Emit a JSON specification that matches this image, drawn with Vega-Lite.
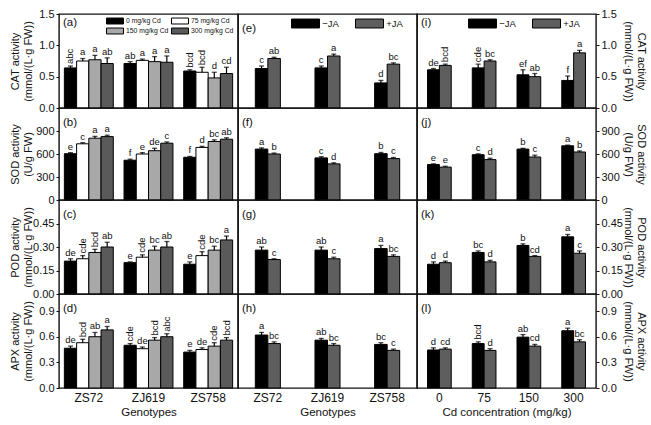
{
"$schema": "https://vega.github.io/schema/vega-lite/v6.json",
"background": "white",
"padding": {"left": 8, "top": 7, "right": 5, "bottom": 5},
"datasets": {
"g4": [
{"enz":"CAT","geno":"ZS72","trt":"0 mg/kg Cd","v":0.64,"hi":0.67,"lab":"abc"},
{"enz":"CAT","geno":"ZS72","trt":"75 mg/kg Cd","v":0.75,"hi":0.79,"lab":"a"},
{"enz":"CAT","geno":"ZS72","trt":"150 mg/kg Cd","v":0.77,"hi":0.84,"lab":"a"},
{"enz":"CAT","geno":"ZS72","trt":"300 mg/kg Cd","v":0.71,"hi":0.80,"lab":"ab"},
{"enz":"CAT","geno":"ZJ619","trt":"0 mg/kg Cd","v":0.71,"hi":0.74,"lab":"ab"},
{"enz":"CAT","geno":"ZJ619","trt":"75 mg/kg Cd","v":0.76,"hi":0.78,"lab":"a"},
{"enz":"CAT","geno":"ZJ619","trt":"150 mg/kg Cd","v":0.74,"hi":0.82,"lab":"a"},
{"enz":"CAT","geno":"ZJ619","trt":"300 mg/kg Cd","v":0.73,"hi":0.83,"lab":"a"},
{"enz":"CAT","geno":"ZS758","trt":"0 mg/kg Cd","v":0.59,"hi":0.61,"lab":"bcd"},
{"enz":"CAT","geno":"ZS758","trt":"75 mg/kg Cd","v":0.57,"hi":0.65,"lab":"bcd"},
{"enz":"CAT","geno":"ZS758","trt":"150 mg/kg Cd","v":0.48,"hi":0.57,"lab":"d"},
{"enz":"CAT","geno":"ZS758","trt":"300 mg/kg Cd","v":0.55,"hi":0.65,"lab":"cd"},
{"enz":"SOD","geno":"ZS72","trt":"0 mg/kg Cd","v":604,"hi":618,"lab":"e"},
{"enz":"SOD","geno":"ZS72","trt":"75 mg/kg Cd","v":733,"hi":748,"lab":"c"},
{"enz":"SOD","geno":"ZS72","trt":"150 mg/kg Cd","v":806,"hi":830,"lab":"a"},
{"enz":"SOD","geno":"ZS72","trt":"300 mg/kg Cd","v":827,"hi":845,"lab":"a"},
{"enz":"SOD","geno":"ZJ619","trt":"0 mg/kg Cd","v":519,"hi":532,"lab":"f"},
{"enz":"SOD","geno":"ZJ619","trt":"75 mg/kg Cd","v":600,"hi":618,"lab":"e"},
{"enz":"SOD","geno":"ZJ619","trt":"150 mg/kg Cd","v":643,"hi":675,"lab":"de"},
{"enz":"SOD","geno":"ZJ619","trt":"300 mg/kg Cd","v":741,"hi":758,"lab":"c"},
{"enz":"SOD","geno":"ZS758","trt":"0 mg/kg Cd","v":557,"hi":568,"lab":"f"},
{"enz":"SOD","geno":"ZS758","trt":"75 mg/kg Cd","v":686,"hi":700,"lab":"d"},
{"enz":"SOD","geno":"ZS758","trt":"150 mg/kg Cd","v":763,"hi":785,"lab":"bc"},
{"enz":"SOD","geno":"ZS758","trt":"300 mg/kg Cd","v":793,"hi":812,"lab":"ab"},
{"enz":"POD","geno":"ZS72","trt":"0 mg/kg Cd","v":0.21,"hi":0.225,"lab":"de"},
{"enz":"POD","geno":"ZS72","trt":"75 mg/kg Cd","v":0.225,"hi":0.245,"lab":"cde"},
{"enz":"POD","geno":"ZS72","trt":"150 mg/kg Cd","v":0.265,"hi":0.285,"lab":"bcd"},
{"enz":"POD","geno":"ZS72","trt":"300 mg/kg Cd","v":0.30,"hi":0.33,"lab":"ab"},
{"enz":"POD","geno":"ZJ619","trt":"0 mg/kg Cd","v":0.20,"hi":0.205,"lab":"e"},
{"enz":"POD","geno":"ZJ619","trt":"75 mg/kg Cd","v":0.235,"hi":0.25,"lab":"cde"},
{"enz":"POD","geno":"ZJ619","trt":"150 mg/kg Cd","v":0.28,"hi":0.305,"lab":"bc"},
{"enz":"POD","geno":"ZJ619","trt":"300 mg/kg Cd","v":0.30,"hi":0.335,"lab":"ab"},
{"enz":"POD","geno":"ZS758","trt":"0 mg/kg Cd","v":0.19,"hi":0.205,"lab":"e"},
{"enz":"POD","geno":"ZS758","trt":"75 mg/kg Cd","v":0.245,"hi":0.27,"lab":"cde"},
{"enz":"POD","geno":"ZS758","trt":"150 mg/kg Cd","v":0.28,"hi":0.305,"lab":"bc"},
{"enz":"POD","geno":"ZS758","trt":"300 mg/kg Cd","v":0.345,"hi":0.37,"lab":"a"},
{"enz":"APX","geno":"ZS72","trt":"0 mg/kg Cd","v":0.465,"hi":0.49,"lab":"de"},
{"enz":"APX","geno":"ZS72","trt":"75 mg/kg Cd","v":0.53,"hi":0.57,"lab":"bcd"},
{"enz":"APX","geno":"ZS72","trt":"150 mg/kg Cd","v":0.60,"hi":0.65,"lab":"ab"},
{"enz":"APX","geno":"ZS72","trt":"300 mg/kg Cd","v":0.68,"hi":0.72,"lab":"a"},
{"enz":"APX","geno":"ZJ619","trt":"0 mg/kg Cd","v":0.50,"hi":0.52,"lab":"cde"},
{"enz":"APX","geno":"ZJ619","trt":"75 mg/kg Cd","v":0.46,"hi":0.48,"lab":"de"},
{"enz":"APX","geno":"ZJ619","trt":"150 mg/kg Cd","v":0.56,"hi":0.59,"lab":"bcd"},
{"enz":"APX","geno":"ZJ619","trt":"300 mg/kg Cd","v":0.60,"hi":0.635,"lab":"abc"},
{"enz":"APX","geno":"ZS758","trt":"0 mg/kg Cd","v":0.42,"hi":0.44,"lab":"e"},
{"enz":"APX","geno":"ZS758","trt":"75 mg/kg Cd","v":0.45,"hi":0.47,"lab":"de"},
{"enz":"APX","geno":"ZS758","trt":"150 mg/kg Cd","v":0.49,"hi":0.53,"lab":"cde"},
{"enz":"APX","geno":"ZS758","trt":"300 mg/kg Cd","v":0.56,"hi":0.59,"lab":"bcd"}
],
"ja": [
{"enz":"CAT","geno":"ZS72","trt":"−JA","v":0.63,"hi":0.67,"lab":"c"},
{"enz":"CAT","geno":"ZS72","trt":"+JA","v":0.79,"hi":0.81,"lab":"ab"},
{"enz":"CAT","geno":"ZJ619","trt":"−JA","v":0.64,"hi":0.67,"lab":"c"},
{"enz":"CAT","geno":"ZJ619","trt":"+JA","v":0.83,"hi":0.86,"lab":"a"},
{"enz":"CAT","geno":"ZS758","trt":"−JA","v":0.40,"hi":0.44,"lab":"d"},
{"enz":"CAT","geno":"ZS758","trt":"+JA","v":0.70,"hi":0.72,"lab":"bc"},
{"enz":"SOD","geno":"ZS72","trt":"−JA","v":664,"hi":680,"lab":"a"},
{"enz":"SOD","geno":"ZS72","trt":"+JA","v":600,"hi":612,"lab":"b"},
{"enz":"SOD","geno":"ZJ619","trt":"−JA","v":549,"hi":565,"lab":"c"},
{"enz":"SOD","geno":"ZJ619","trt":"+JA","v":471,"hi":485,"lab":"d"},
{"enz":"SOD","geno":"ZS758","trt":"−JA","v":604,"hi":620,"lab":"b"},
{"enz":"SOD","geno":"ZS758","trt":"+JA","v":540,"hi":555,"lab":"c"},
{"enz":"POD","geno":"ZS72","trt":"−JA","v":0.28,"hi":0.30,"lab":"ab"},
{"enz":"POD","geno":"ZS72","trt":"+JA","v":0.22,"hi":0.225,"lab":"c"},
{"enz":"POD","geno":"ZJ619","trt":"−JA","v":0.28,"hi":0.30,"lab":"ab"},
{"enz":"POD","geno":"ZJ619","trt":"+JA","v":0.225,"hi":0.235,"lab":"c"},
{"enz":"POD","geno":"ZS758","trt":"−JA","v":0.29,"hi":0.31,"lab":"a"},
{"enz":"POD","geno":"ZS758","trt":"+JA","v":0.24,"hi":0.25,"lab":"bc"},
{"enz":"APX","geno":"ZS72","trt":"−JA","v":0.62,"hi":0.65,"lab":"a"},
{"enz":"APX","geno":"ZS72","trt":"+JA","v":0.52,"hi":0.54,"lab":"bc"},
{"enz":"APX","geno":"ZJ619","trt":"−JA","v":0.56,"hi":0.58,"lab":"ab"},
{"enz":"APX","geno":"ZJ619","trt":"+JA","v":0.50,"hi":0.52,"lab":"bc"},
{"enz":"APX","geno":"ZS758","trt":"−JA","v":0.51,"hi":0.53,"lab":"bc"},
{"enz":"APX","geno":"ZS758","trt":"+JA","v":0.44,"hi":0.455,"lab":"c"}
],
"jc": [
{"enz":"CAT","cd":"0","trt":"−JA","v":0.61,"hi":0.63,"lab":"de"},
{"enz":"CAT","cd":"0","trt":"+JA","v":0.68,"hi":0.70,"lab":"bcd"},
{"enz":"CAT","cd":"75","trt":"−JA","v":0.64,"hi":0.70,"lab":"cde"},
{"enz":"CAT","cd":"75","trt":"+JA","v":0.75,"hi":0.77,"lab":"bc"},
{"enz":"CAT","cd":"150","trt":"−JA","v":0.53,"hi":0.61,"lab":"ef"},
{"enz":"CAT","cd":"150","trt":"+JA","v":0.50,"hi":0.55,"lab":"ab"},
{"enz":"CAT","cd":"300","trt":"−JA","v":0.44,"hi":0.51,"lab":"f"},
{"enz":"CAT","cd":"300","trt":"+JA","v":0.88,"hi":0.92,"lab":"a"},
{"enz":"SOD","cd":"0","trt":"−JA","v":463,"hi":472,"lab":"e"},
{"enz":"SOD","cd":"0","trt":"+JA","v":429,"hi":440,"lab":"e"},
{"enz":"SOD","cd":"75","trt":"−JA","v":591,"hi":602,"lab":"c"},
{"enz":"SOD","cd":"75","trt":"+JA","v":527,"hi":545,"lab":"d"},
{"enz":"SOD","cd":"150","trt":"−JA","v":664,"hi":674,"lab":"b"},
{"enz":"SOD","cd":"150","trt":"+JA","v":561,"hi":585,"lab":"c"},
{"enz":"SOD","cd":"300","trt":"−JA","v":707,"hi":716,"lab":"a"},
{"enz":"SOD","cd":"300","trt":"+JA","v":626,"hi":640,"lab":"b"},
{"enz":"POD","cd":"0","trt":"−JA","v":0.19,"hi":0.205,"lab":"d"},
{"enz":"POD","cd":"0","trt":"+JA","v":0.20,"hi":0.21,"lab":"d"},
{"enz":"POD","cd":"75","trt":"−JA","v":0.265,"hi":0.275,"lab":"bc"},
{"enz":"POD","cd":"75","trt":"+JA","v":0.205,"hi":0.215,"lab":"d"},
{"enz":"POD","cd":"150","trt":"−JA","v":0.31,"hi":0.32,"lab":"b"},
{"enz":"POD","cd":"150","trt":"+JA","v":0.24,"hi":0.245,"lab":"cd"},
{"enz":"POD","cd":"300","trt":"−JA","v":0.365,"hi":0.38,"lab":"a"},
{"enz":"POD","cd":"300","trt":"+JA","v":0.26,"hi":0.275,"lab":"c"},
{"enz":"APX","cd":"0","trt":"−JA","v":0.445,"hi":0.47,"lab":"d"},
{"enz":"APX","cd":"0","trt":"+JA","v":0.455,"hi":0.47,"lab":"cd"},
{"enz":"APX","cd":"75","trt":"−JA","v":0.52,"hi":0.54,"lab":"bcd"},
{"enz":"APX","cd":"75","trt":"+JA","v":0.44,"hi":0.46,"lab":"d"},
{"enz":"APX","cd":"150","trt":"−JA","v":0.595,"hi":0.625,"lab":"ab"},
{"enz":"APX","cd":"150","trt":"+JA","v":0.49,"hi":0.51,"lab":"cd"},
{"enz":"APX","cd":"300","trt":"−JA","v":0.67,"hi":0.70,"lab":"a"},
{"enz":"APX","cd":"300","trt":"+JA","v":0.54,"hi":0.565,"lab":"bc"}
]
},
"columns": 3,
"spacing": 0,
"bounds": "flush",
"concat": [
{"width":179,"height":94,"title":{"text":"(a)"},"data":{"name":"g4"},"transform":[{"filter":"datum.enz === 'CAT'"}],
 "encoding":{"x":{"field":"geno","type":"nominal","sort":["ZS72","ZJ619","ZS758"],"scale":{"paddingInner":0.18,"paddingOuter":0.09},"axis":null},
  "xOffset":{"field":"trt","type":"nominal","sort":["0 mg/kg Cd","75 mg/kg Cd","150 mg/kg Cd","300 mg/kg Cd"],"scale":{"paddingInner":0,"paddingOuter":0}}},
 "layer":[
  {"mark":{"type":"bar","stroke":"black","strokeWidth":1},"encoding":{"y":{"field":"v","type":"quantitative","scale":{"domain":[0,1.5],"nice":false},"axis":{"orient":"left","values":[0,0.5,1,1.5],"format":".1f","labelOverlap":false,"title":["CAT activity","(mmol/(L·g FW))"]}},
   "color":{"field":"trt","type":"nominal","scale":{"domain":["0 mg/kg Cd","75 mg/kg Cd","150 mg/kg Cd","300 mg/kg Cd"],"range":["#000000","#ffffff","#a8a8a8","#5a5a5a"]},
    "legend":{"title":null,"orient":"none","legendX":51,"legendY":2,"columns":2,"direction":"horizontal","symbolType":"M-2,-0.7H2V0.7H-2Z","symbolSize":72,"labelFontSize":6.8,"labelOffset":6,"columnPadding":0,"rowPadding":-6,"symbolStrokeColor":"black","symbolStrokeWidth":1}}}},
  {"mark":{"type":"rule","color":"black","strokeWidth":1.2},"encoding":{"y":{"field":"v","type":"quantitative","axis":{"orient":"left","values":[0,0.5,1,1.5],"format":".1f","labelOverlap":false,"title":["CAT activity","(mmol/(L·g FW))"]}},"y2":{"field":"hi"}}},
  {"mark":{"type":"tick","color":"black","thickness":1.3,"size":5},"encoding":{"y":{"field":"hi","type":"quantitative","axis":{"orient":"left","values":[0,0.5,1,1.5],"format":".1f","labelOverlap":false,"title":["CAT activity","(mmol/(L·g FW))"]}}}},
  {"transform":[{"filter":"length(datum.lab) < 3"}],"mark":{"type":"text","baseline":"bottom","dy":-1,"fontSize":9.5,"color":"#111"},"encoding":{"y":{"field":"hi","type":"quantitative","axis":{"orient":"left","values":[0,0.5,1,1.5],"format":".1f","labelOverlap":false,"title":["CAT activity","(mmol/(L·g FW))"]}},"text":{"field":"lab"}}},
  {"transform":[{"filter":"length(datum.lab) >= 3"}],"mark":{"type":"text","angle":270,"align":"left","baseline":"middle","dx":2,"fontSize":9.5,"color":"#111"},"encoding":{"y":{"field":"hi","type":"quantitative","axis":{"orient":"left","values":[0,0.5,1,1.5],"format":".1f","labelOverlap":false,"title":["CAT activity","(mmol/(L·g FW))"]}},"text":{"field":"lab"}}}
 ]},
{"width":179,"height":94,"title":{"text":"(e)"},"data":{"name":"ja"},"transform":[{"filter":"datum.enz === 'CAT'"}],
 "encoding":{"x":{"field":"geno","type":"nominal","sort":["ZS72","ZJ619","ZS758"],"scale":{"paddingInner":0.58,"paddingOuter":0.29},"axis":null},
  "xOffset":{"field":"trt","type":"nominal","sort":["−JA","+JA"],"scale":{"paddingInner":0,"paddingOuter":0}}},
 "layer":[
  {"mark":{"type":"bar","stroke":"black","strokeWidth":1},"encoding":{"y":{"field":"v","type":"quantitative","scale":{"domain":[0,1.5],"nice":false},"axis":null},
   "color":{"field":"trt","type":"nominal","scale":{"domain":["−JA","+JA"],"range":["#000000","#5e5e5e"]},
    "legend":{"title":null,"orient":"none","legendX":62,"legendY":4,"columns":2,"direction":"horizontal","symbolType":"M-3,-0.96H3V0.96H-3Z","symbolSize":87,"labelFontSize":9.5,"labelOffset":11.3,"columnPadding":14,"symbolStrokeColor":"black","symbolStrokeWidth":1}}}},
  {"mark":{"type":"rule","color":"black","strokeWidth":1.2},"encoding":{"y":{"field":"v","type":"quantitative","axis":null},"y2":{"field":"hi"}}},
  {"mark":{"type":"tick","color":"black","thickness":1.3,"size":5},"encoding":{"y":{"field":"hi","type":"quantitative","axis":null}}},
  {"transform":[{"filter":"length(datum.lab) < 3"}],"mark":{"type":"text","baseline":"bottom","dy":-1,"fontSize":9.5,"color":"#111"},"encoding":{"y":{"field":"hi","type":"quantitative","axis":null},"text":{"field":"lab"}}},
  {"transform":[{"filter":"length(datum.lab) >= 3"}],"mark":{"type":"text","angle":270,"align":"left","baseline":"middle","dx":2,"fontSize":9.5,"color":"#111"},"encoding":{"y":{"field":"hi","type":"quantitative","axis":null},"text":{"field":"lab"}}}
 ]},
{"width":179,"height":94,"title":{"text":"(i)"},"data":{"name":"jc"},"transform":[{"filter":"datum.enz === 'CAT'"}],
 "encoding":{"x":{"field":"cd","type":"nominal","sort":["0","75","150","300"],"scale":{"paddingInner":0.47,"paddingOuter":0.235},"axis":null},
  "xOffset":{"field":"trt","type":"nominal","sort":["−JA","+JA"],"scale":{"paddingInner":0,"paddingOuter":0}}},
 "layer":[
  {"mark":{"type":"bar","stroke":"black","strokeWidth":1},"encoding":{"y":{"field":"v","type":"quantitative","scale":{"domain":[0,1.5],"nice":false},"axis":{"orient":"right","values":[0,0.5,1,1.5],"format":".1f","labelOverlap":false,"title":["CAT activity","(mmol/(L·g FW))"]}},
   "color":{"field":"trt","type":"nominal","scale":{"domain":["−JA","+JA"],"range":["#000000","#5e5e5e"]},
    "legend":{"title":null,"orient":"none","legendX":60,"legendY":4,"columns":2,"direction":"horizontal","symbolType":"M-3,-0.96H3V0.96H-3Z","symbolSize":87,"labelFontSize":9.5,"labelOffset":11.3,"columnPadding":14,"symbolStrokeColor":"black","symbolStrokeWidth":1}}}},
  {"mark":{"type":"rule","color":"black","strokeWidth":1.2},"encoding":{"y":{"field":"v","type":"quantitative","axis":{"orient":"right","values":[0,0.5,1,1.5],"format":".1f","labelOverlap":false,"title":["CAT activity","(mmol/(L·g FW))"]}},"y2":{"field":"hi"}}},
  {"mark":{"type":"tick","color":"black","thickness":1.3,"size":5},"encoding":{"y":{"field":"hi","type":"quantitative","axis":{"orient":"right","values":[0,0.5,1,1.5],"format":".1f","labelOverlap":false,"title":["CAT activity","(mmol/(L·g FW))"]}}}},
  {"transform":[{"filter":"length(datum.lab) < 3"}],"mark":{"type":"text","baseline":"bottom","dy":-1,"fontSize":9.5,"color":"#111"},"encoding":{"y":{"field":"hi","type":"quantitative","axis":{"orient":"right","values":[0,0.5,1,1.5],"format":".1f","labelOverlap":false,"title":["CAT activity","(mmol/(L·g FW))"]}},"text":{"field":"lab"}}},
  {"transform":[{"filter":"length(datum.lab) >= 3"}],"mark":{"type":"text","angle":270,"align":"left","baseline":"middle","dx":2,"fontSize":9.5,"color":"#111"},"encoding":{"y":{"field":"hi","type":"quantitative","axis":{"orient":"right","values":[0,0.5,1,1.5],"format":".1f","labelOverlap":false,"title":["CAT activity","(mmol/(L·g FW))"]}},"text":{"field":"lab"}}}
 ]},
{"width":179,"height":92,"title":{"text":"(b)"},"data":{"name":"g4"},"transform":[{"filter":"datum.enz === 'SOD'"}],
 "encoding":{"x":{"field":"geno","type":"nominal","sort":["ZS72","ZJ619","ZS758"],"scale":{"paddingInner":0.18,"paddingOuter":0.09},"axis":null},
  "xOffset":{"field":"trt","type":"nominal","sort":["0 mg/kg Cd","75 mg/kg Cd","150 mg/kg Cd","300 mg/kg Cd"],"scale":{"paddingInner":0,"paddingOuter":0}}},
 "layer":[
  {"mark":{"type":"bar","stroke":"black","strokeWidth":1},"encoding":{"y":{"field":"v","type":"quantitative","scale":{"domain":[0,1200],"nice":false},"axis":{"orient":"left","values":[0,300,600,900],"labelOverlap":false,"title":["SOD activity","(U/g FW)"]}},
   "color":{"field":"trt","type":"nominal","scale":{"domain":["0 mg/kg Cd","75 mg/kg Cd","150 mg/kg Cd","300 mg/kg Cd"],"range":["#000000","#ffffff","#a8a8a8","#5a5a5a"]},"legend":null}}},
  {"mark":{"type":"rule","color":"black","strokeWidth":1.2},"encoding":{"y":{"field":"v","type":"quantitative","axis":{"orient":"left","values":[0,300,600,900],"labelOverlap":false,"title":["SOD activity","(U/g FW)"]}},"y2":{"field":"hi"}}},
  {"mark":{"type":"tick","color":"black","thickness":1.3,"size":5},"encoding":{"y":{"field":"hi","type":"quantitative","axis":{"orient":"left","values":[0,300,600,900],"labelOverlap":false,"title":["SOD activity","(U/g FW)"]}}}},
  {"transform":[{"filter":"length(datum.lab) < 3"}],"mark":{"type":"text","baseline":"bottom","dy":-1,"fontSize":9.5,"color":"#111"},"encoding":{"y":{"field":"hi","type":"quantitative","axis":{"orient":"left","values":[0,300,600,900],"labelOverlap":false,"title":["SOD activity","(U/g FW)"]}},"text":{"field":"lab"}}},
  {"transform":[{"filter":"length(datum.lab) >= 3"}],"mark":{"type":"text","angle":270,"align":"left","baseline":"middle","dx":2,"fontSize":9.5,"color":"#111"},"encoding":{"y":{"field":"hi","type":"quantitative","axis":{"orient":"left","values":[0,300,600,900],"labelOverlap":false,"title":["SOD activity","(U/g FW)"]}},"text":{"field":"lab"}}}
 ]},
{"width":179,"height":92,"title":{"text":"(f)"},"data":{"name":"ja"},"transform":[{"filter":"datum.enz === 'SOD'"}],
 "encoding":{"x":{"field":"geno","type":"nominal","sort":["ZS72","ZJ619","ZS758"],"scale":{"paddingInner":0.58,"paddingOuter":0.29},"axis":null},
  "xOffset":{"field":"trt","type":"nominal","sort":["−JA","+JA"],"scale":{"paddingInner":0,"paddingOuter":0}}},
 "layer":[
  {"mark":{"type":"bar","stroke":"black","strokeWidth":1},"encoding":{"y":{"field":"v","type":"quantitative","scale":{"domain":[0,1200],"nice":false},"axis":null},
   "color":{"field":"trt","type":"nominal","scale":{"domain":["−JA","+JA"],"range":["#000000","#5e5e5e"]},"legend":null}}},
  {"mark":{"type":"rule","color":"black","strokeWidth":1.2},"encoding":{"y":{"field":"v","type":"quantitative","axis":null},"y2":{"field":"hi"}}},
  {"mark":{"type":"tick","color":"black","thickness":1.3,"size":5},"encoding":{"y":{"field":"hi","type":"quantitative","axis":null}}},
  {"transform":[{"filter":"length(datum.lab) < 3"}],"mark":{"type":"text","baseline":"bottom","dy":-1,"fontSize":9.5,"color":"#111"},"encoding":{"y":{"field":"hi","type":"quantitative","axis":null},"text":{"field":"lab"}}},
  {"transform":[{"filter":"length(datum.lab) >= 3"}],"mark":{"type":"text","angle":270,"align":"left","baseline":"middle","dx":2,"fontSize":9.5,"color":"#111"},"encoding":{"y":{"field":"hi","type":"quantitative","axis":null},"text":{"field":"lab"}}}
 ]},
{"width":179,"height":92,"title":{"text":"(j)"},"data":{"name":"jc"},"transform":[{"filter":"datum.enz === 'SOD'"}],
 "encoding":{"x":{"field":"cd","type":"nominal","sort":["0","75","150","300"],"scale":{"paddingInner":0.47,"paddingOuter":0.235},"axis":null},
  "xOffset":{"field":"trt","type":"nominal","sort":["−JA","+JA"],"scale":{"paddingInner":0,"paddingOuter":0}}},
 "layer":[
  {"mark":{"type":"bar","stroke":"black","strokeWidth":1},"encoding":{"y":{"field":"v","type":"quantitative","scale":{"domain":[0,1200],"nice":false},"axis":{"orient":"right","values":[0,300,600,900],"labelOverlap":false,"title":["SOD activity","(U/g FW)"]}},
   "color":{"field":"trt","type":"nominal","scale":{"domain":["−JA","+JA"],"range":["#000000","#5e5e5e"]},"legend":null}}},
  {"mark":{"type":"rule","color":"black","strokeWidth":1.2},"encoding":{"y":{"field":"v","type":"quantitative","axis":{"orient":"right","values":[0,300,600,900],"labelOverlap":false,"title":["SOD activity","(U/g FW)"]}},"y2":{"field":"hi"}}},
  {"mark":{"type":"tick","color":"black","thickness":1.3,"size":5},"encoding":{"y":{"field":"hi","type":"quantitative","axis":{"orient":"right","values":[0,300,600,900],"labelOverlap":false,"title":["SOD activity","(U/g FW)"]}}}},
  {"transform":[{"filter":"length(datum.lab) < 3"}],"mark":{"type":"text","baseline":"bottom","dy":-1,"fontSize":9.5,"color":"#111"},"encoding":{"y":{"field":"hi","type":"quantitative","axis":{"orient":"right","values":[0,300,600,900],"labelOverlap":false,"title":["SOD activity","(U/g FW)"]}},"text":{"field":"lab"}}},
  {"transform":[{"filter":"length(datum.lab) >= 3"}],"mark":{"type":"text","angle":270,"align":"left","baseline":"middle","dx":2,"fontSize":9.5,"color":"#111"},"encoding":{"y":{"field":"hi","type":"quantitative","axis":{"orient":"right","values":[0,300,600,900],"labelOverlap":false,"title":["SOD activity","(U/g FW)"]}},"text":{"field":"lab"}}}
 ]},
{"width":179,"height":94,"title":{"text":"(c)"},"data":{"name":"g4"},"transform":[{"filter":"datum.enz === 'POD'"}],
 "encoding":{"x":{"field":"geno","type":"nominal","sort":["ZS72","ZJ619","ZS758"],"scale":{"paddingInner":0.18,"paddingOuter":0.09},"axis":null},
  "xOffset":{"field":"trt","type":"nominal","sort":["0 mg/kg Cd","75 mg/kg Cd","150 mg/kg Cd","300 mg/kg Cd"],"scale":{"paddingInner":0,"paddingOuter":0}}},
 "layer":[
  {"mark":{"type":"bar","stroke":"black","strokeWidth":1},"encoding":{"y":{"field":"v","type":"quantitative","scale":{"domain":[0,0.6],"nice":false},"axis":{"orient":"left","values":[0,0.15,0.3,0.45],"format":".2f","labelOverlap":false,"title":["POD activity","(mmol/(L·g FW))"]}},
   "color":{"field":"trt","type":"nominal","scale":{"domain":["0 mg/kg Cd","75 mg/kg Cd","150 mg/kg Cd","300 mg/kg Cd"],"range":["#000000","#ffffff","#a8a8a8","#5a5a5a"]},"legend":null}}},
  {"mark":{"type":"rule","color":"black","strokeWidth":1.2},"encoding":{"y":{"field":"v","type":"quantitative","axis":{"orient":"left","values":[0,0.15,0.3,0.45],"format":".2f","labelOverlap":false,"title":["POD activity","(mmol/(L·g FW))"]}},"y2":{"field":"hi"}}},
  {"mark":{"type":"tick","color":"black","thickness":1.3,"size":5},"encoding":{"y":{"field":"hi","type":"quantitative","axis":{"orient":"left","values":[0,0.15,0.3,0.45],"format":".2f","labelOverlap":false,"title":["POD activity","(mmol/(L·g FW))"]}}}},
  {"transform":[{"filter":"length(datum.lab) < 3"}],"mark":{"type":"text","baseline":"bottom","dy":-1,"fontSize":9.5,"color":"#111"},"encoding":{"y":{"field":"hi","type":"quantitative","axis":{"orient":"left","values":[0,0.15,0.3,0.45],"format":".2f","labelOverlap":false,"title":["POD activity","(mmol/(L·g FW))"]}},"text":{"field":"lab"}}},
  {"transform":[{"filter":"length(datum.lab) >= 3"}],"mark":{"type":"text","angle":270,"align":"left","baseline":"middle","dx":2,"fontSize":9.5,"color":"#111"},"encoding":{"y":{"field":"hi","type":"quantitative","axis":{"orient":"left","values":[0,0.15,0.3,0.45],"format":".2f","labelOverlap":false,"title":["POD activity","(mmol/(L·g FW))"]}},"text":{"field":"lab"}}}
 ]},
{"width":179,"height":94,"title":{"text":"(g)"},"data":{"name":"ja"},"transform":[{"filter":"datum.enz === 'POD'"}],
 "encoding":{"x":{"field":"geno","type":"nominal","sort":["ZS72","ZJ619","ZS758"],"scale":{"paddingInner":0.58,"paddingOuter":0.29},"axis":null},
  "xOffset":{"field":"trt","type":"nominal","sort":["−JA","+JA"],"scale":{"paddingInner":0,"paddingOuter":0}}},
 "layer":[
  {"mark":{"type":"bar","stroke":"black","strokeWidth":1},"encoding":{"y":{"field":"v","type":"quantitative","scale":{"domain":[0,0.6],"nice":false},"axis":null},
   "color":{"field":"trt","type":"nominal","scale":{"domain":["−JA","+JA"],"range":["#000000","#5e5e5e"]},"legend":null}}},
  {"mark":{"type":"rule","color":"black","strokeWidth":1.2},"encoding":{"y":{"field":"v","type":"quantitative","axis":null},"y2":{"field":"hi"}}},
  {"mark":{"type":"tick","color":"black","thickness":1.3,"size":5},"encoding":{"y":{"field":"hi","type":"quantitative","axis":null}}},
  {"transform":[{"filter":"length(datum.lab) < 3"}],"mark":{"type":"text","baseline":"bottom","dy":-1,"fontSize":9.5,"color":"#111"},"encoding":{"y":{"field":"hi","type":"quantitative","axis":null},"text":{"field":"lab"}}},
  {"transform":[{"filter":"length(datum.lab) >= 3"}],"mark":{"type":"text","angle":270,"align":"left","baseline":"middle","dx":2,"fontSize":9.5,"color":"#111"},"encoding":{"y":{"field":"hi","type":"quantitative","axis":null},"text":{"field":"lab"}}}
 ]},
{"width":179,"height":94,"title":{"text":"(k)"},"data":{"name":"jc"},"transform":[{"filter":"datum.enz === 'POD'"}],
 "encoding":{"x":{"field":"cd","type":"nominal","sort":["0","75","150","300"],"scale":{"paddingInner":0.47,"paddingOuter":0.235},"axis":null},
  "xOffset":{"field":"trt","type":"nominal","sort":["−JA","+JA"],"scale":{"paddingInner":0,"paddingOuter":0}}},
 "layer":[
  {"mark":{"type":"bar","stroke":"black","strokeWidth":1},"encoding":{"y":{"field":"v","type":"quantitative","scale":{"domain":[0,0.6],"nice":false},"axis":{"orient":"right","values":[0,0.15,0.3,0.45],"format":".2f","labelOverlap":false,"title":["POD activity","(mmol/(L·g FW))"]}},
   "color":{"field":"trt","type":"nominal","scale":{"domain":["−JA","+JA"],"range":["#000000","#5e5e5e"]},"legend":null}}},
  {"mark":{"type":"rule","color":"black","strokeWidth":1.2},"encoding":{"y":{"field":"v","type":"quantitative","axis":{"orient":"right","values":[0,0.15,0.3,0.45],"format":".2f","labelOverlap":false,"title":["POD activity","(mmol/(L·g FW))"]}},"y2":{"field":"hi"}}},
  {"mark":{"type":"tick","color":"black","thickness":1.3,"size":5},"encoding":{"y":{"field":"hi","type":"quantitative","axis":{"orient":"right","values":[0,0.15,0.3,0.45],"format":".2f","labelOverlap":false,"title":["POD activity","(mmol/(L·g FW))"]}}}},
  {"transform":[{"filter":"length(datum.lab) < 3"}],"mark":{"type":"text","baseline":"bottom","dy":-1,"fontSize":9.5,"color":"#111"},"encoding":{"y":{"field":"hi","type":"quantitative","axis":{"orient":"right","values":[0,0.15,0.3,0.45],"format":".2f","labelOverlap":false,"title":["POD activity","(mmol/(L·g FW))"]}},"text":{"field":"lab"}}},
  {"transform":[{"filter":"length(datum.lab) >= 3"}],"mark":{"type":"text","angle":270,"align":"left","baseline":"middle","dx":2,"fontSize":9.5,"color":"#111"},"encoding":{"y":{"field":"hi","type":"quantitative","axis":{"orient":"right","values":[0,0.15,0.3,0.45],"format":".2f","labelOverlap":false,"title":["POD activity","(mmol/(L·g FW))"]}},"text":{"field":"lab"}}}
 ]},
{"width":179,"height":94,"title":{"text":"(d)"},"data":{"name":"g4"},"transform":[{"filter":"datum.enz === 'APX'"}],
 "encoding":{"x":{"field":"geno","type":"nominal","sort":["ZS72","ZJ619","ZS758"],"scale":{"paddingInner":0.18,"paddingOuter":0.09},"axis":{"title":"Genotypes"}},
  "xOffset":{"field":"trt","type":"nominal","sort":["0 mg/kg Cd","75 mg/kg Cd","150 mg/kg Cd","300 mg/kg Cd"],"scale":{"paddingInner":0,"paddingOuter":0}}},
 "layer":[
  {"mark":{"type":"bar","stroke":"black","strokeWidth":1},"encoding":{"y":{"field":"v","type":"quantitative","scale":{"domain":[0,1.1],"nice":false},"axis":{"orient":"left","values":[0,0.3,0.6,0.9],"format":".1f","labelOverlap":false,"title":["APX activity","(mmol/(L·g FW))"]}},
   "color":{"field":"trt","type":"nominal","scale":{"domain":["0 mg/kg Cd","75 mg/kg Cd","150 mg/kg Cd","300 mg/kg Cd"],"range":["#000000","#ffffff","#a8a8a8","#5a5a5a"]},"legend":null}}},
  {"mark":{"type":"rule","color":"black","strokeWidth":1.2},"encoding":{"y":{"field":"v","type":"quantitative","axis":{"orient":"left","values":[0,0.3,0.6,0.9],"format":".1f","labelOverlap":false,"title":["APX activity","(mmol/(L·g FW))"]}},"y2":{"field":"hi"}}},
  {"mark":{"type":"tick","color":"black","thickness":1.3,"size":5},"encoding":{"y":{"field":"hi","type":"quantitative","axis":{"orient":"left","values":[0,0.3,0.6,0.9],"format":".1f","labelOverlap":false,"title":["APX activity","(mmol/(L·g FW))"]}}}},
  {"transform":[{"filter":"length(datum.lab) < 3"}],"mark":{"type":"text","baseline":"bottom","dy":-1,"fontSize":9.5,"color":"#111"},"encoding":{"y":{"field":"hi","type":"quantitative","axis":{"orient":"left","values":[0,0.3,0.6,0.9],"format":".1f","labelOverlap":false,"title":["APX activity","(mmol/(L·g FW))"]}},"text":{"field":"lab"}}},
  {"transform":[{"filter":"length(datum.lab) >= 3"}],"mark":{"type":"text","angle":270,"align":"left","baseline":"middle","dx":2,"fontSize":9.5,"color":"#111"},"encoding":{"y":{"field":"hi","type":"quantitative","axis":{"orient":"left","values":[0,0.3,0.6,0.9],"format":".1f","labelOverlap":false,"title":["APX activity","(mmol/(L·g FW))"]}},"text":{"field":"lab"}}}
 ]},
{"width":179,"height":94,"title":{"text":"(h)"},"data":{"name":"ja"},"transform":[{"filter":"datum.enz === 'APX'"}],
 "encoding":{"x":{"field":"geno","type":"nominal","sort":["ZS72","ZJ619","ZS758"],"scale":{"paddingInner":0.58,"paddingOuter":0.29},"axis":{"title":"Genotypes"}},
  "xOffset":{"field":"trt","type":"nominal","sort":["−JA","+JA"],"scale":{"paddingInner":0,"paddingOuter":0}}},
 "layer":[
  {"mark":{"type":"bar","stroke":"black","strokeWidth":1},"encoding":{"y":{"field":"v","type":"quantitative","scale":{"domain":[0,1.1],"nice":false},"axis":null},
   "color":{"field":"trt","type":"nominal","scale":{"domain":["−JA","+JA"],"range":["#000000","#5e5e5e"]},"legend":null}}},
  {"mark":{"type":"rule","color":"black","strokeWidth":1.2},"encoding":{"y":{"field":"v","type":"quantitative","axis":null},"y2":{"field":"hi"}}},
  {"mark":{"type":"tick","color":"black","thickness":1.3,"size":5},"encoding":{"y":{"field":"hi","type":"quantitative","axis":null}}},
  {"transform":[{"filter":"length(datum.lab) < 3"}],"mark":{"type":"text","baseline":"bottom","dy":-1,"fontSize":9.5,"color":"#111"},"encoding":{"y":{"field":"hi","type":"quantitative","axis":null},"text":{"field":"lab"}}},
  {"transform":[{"filter":"length(datum.lab) >= 3"}],"mark":{"type":"text","angle":270,"align":"left","baseline":"middle","dx":2,"fontSize":9.5,"color":"#111"},"encoding":{"y":{"field":"hi","type":"quantitative","axis":null},"text":{"field":"lab"}}}
 ]},
{"width":179,"height":94,"title":{"text":"(l)"},"data":{"name":"jc"},"transform":[{"filter":"datum.enz === 'APX'"}],
 "encoding":{"x":{"field":"cd","type":"nominal","sort":["0","75","150","300"],"scale":{"paddingInner":0.47,"paddingOuter":0.235},"axis":{"title":"Cd concentration (mg/kg)"}},
  "xOffset":{"field":"trt","type":"nominal","sort":["−JA","+JA"],"scale":{"paddingInner":0,"paddingOuter":0}}},
 "layer":[
  {"mark":{"type":"bar","stroke":"black","strokeWidth":1},"encoding":{"y":{"field":"v","type":"quantitative","scale":{"domain":[0,1.1],"nice":false},"axis":{"orient":"right","values":[0,0.3,0.6,0.9],"format":".1f","labelOverlap":false,"title":["APX activity","(mmol/(L·g FW))"]}},
   "color":{"field":"trt","type":"nominal","scale":{"domain":["−JA","+JA"],"range":["#000000","#5e5e5e"]},"legend":null}}},
  {"mark":{"type":"rule","color":"black","strokeWidth":1.2},"encoding":{"y":{"field":"v","type":"quantitative","axis":{"orient":"right","values":[0,0.3,0.6,0.9],"format":".1f","labelOverlap":false,"title":["APX activity","(mmol/(L·g FW))"]}},"y2":{"field":"hi"}}},
  {"mark":{"type":"tick","color":"black","thickness":1.3,"size":5},"encoding":{"y":{"field":"hi","type":"quantitative","axis":{"orient":"right","values":[0,0.3,0.6,0.9],"format":".1f","labelOverlap":false,"title":["APX activity","(mmol/(L·g FW))"]}}}},
  {"transform":[{"filter":"length(datum.lab) < 3"}],"mark":{"type":"text","baseline":"bottom","dy":-1,"fontSize":9.5,"color":"#111"},"encoding":{"y":{"field":"hi","type":"quantitative","axis":{"orient":"right","values":[0,0.3,0.6,0.9],"format":".1f","labelOverlap":false,"title":["APX activity","(mmol/(L·g FW))"]}},"text":{"field":"lab"}}},
  {"transform":[{"filter":"length(datum.lab) >= 3"}],"mark":{"type":"text","angle":270,"align":"left","baseline":"middle","dx":2,"fontSize":9.5,"color":"#111"},"encoding":{"y":{"field":"hi","type":"quantitative","axis":{"orient":"right","values":[0,0.3,0.6,0.9],"format":".1f","labelOverlap":false,"title":["APX activity","(mmol/(L·g FW))"]}},"text":{"field":"lab"}}}
 ]}
],
"resolve": {"scale": {"x": "independent", "y": "independent", "color": "independent", "xOffset": "independent"}, "legend": {"color": "independent"}, "axis": {"x": "independent", "y": "independent"}},
"config": {
 "font": "Liberation Sans",
 "view": {"stroke": "#111", "strokeWidth": 1.4},
 "axis": {"grid": false, "domain": false, "tickColor": "#111", "tickSize": 3, "tickWidth": 1, "labelColor": "#111", "labelFontSize": 11, "titleFontSize": 11, "titleFontWeight": "normal", "titleColor": "#111", "labelFlush": false, "labelPadding": 2},
 "axisLeft": {"titleAngle": 270, "titleBaseline": "bottom", "minExtent": 23, "maxExtent": 23, "titlePadding": 3},
 "axisRight": {"titleAngle": 90, "titleBaseline": "bottom", "minExtent": 23, "maxExtent": 23, "titlePadding": 3},
 "axisBottom": {"ticks": false, "labelFontSize": 12, "labelPadding": 4, "titlePadding": 3, "labelAngle": 0, "titleFontSize": 11.5},
 "title": {"anchor": "start", "frame": "group", "offset": -22, "baseline": "top", "fontSize": 11.5, "fontWeight": "normal", "color": "#111", "dx": 4, "dy": -2},
 "legend": {"padding": 0, "labelColor": "#111"}
}
}
